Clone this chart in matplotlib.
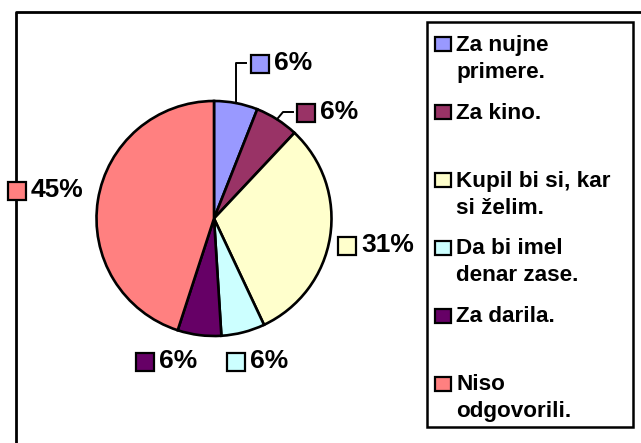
import numpy as np
import matplotlib.pyplot as plt
from matplotlib.patches import Rectangle

W, H = 641, 443

categories = ['Za nujne\nprimere.', 'Za kino.', 'Kupil bi si, kar\nsi želim.',
              'Da bi imel\ndenar zase.', 'Za darila.', 'Niso\nodgovorili.']
shares = [6, 6, 31, 6, 6, 45]
colors = ['#9999FF', '#993366', '#FFFFCC', '#CCFFFF', '#660066', '#FF8080']

# label square left edge / text centre line (pixels from top-left)
label_pos = [(251, 63), (297, 112), (338, 245), (227, 361), (136, 361), (8, 190)]
# elbow points of leader lines (only for labels that have one)
leaders = {0: [(236, 63), (246, 63)], 1: [(283, 112), (293, 112)]}

cx, cy, r = 214, 218.5, 117.5

plt.rcParams['font.family'] = ['Liberation Sans', 'DejaVu Sans']
fig = plt.figure(figsize=(W / 100, H / 100), dpi=100)
ax = fig.add_axes([0, 0, 1, 1])


def up(py):
    return H - py


wedges, _ = ax.pie(shares, colors=colors, startangle=90, counterclock=False,
                   center=(cx, up(cy)), radius=r,
                   wedgeprops=dict(edgecolor='black', linewidth=1.9))
ax.set_aspect('auto')
ax.set_xlim(0, W)
ax.set_ylim(0, H)
ax.axis('off')

# outer chart frame (only left and top edges are inside the image)
ax.plot([15.7, 15.7, W + 5], [-5, up(12.3), up(12.3)], color='black', lw=2,
        clip_on=False, zorder=1)

for i, (w, val) in enumerate(zip(wedges, shares)):
    sx, sy = label_pos[i]
    if i in leaders:
        mid = np.deg2rad((w.theta1 + w.theta2) / 2)
        px, py = cx + r * np.cos(mid), cy - r * np.sin(mid)
        pts = [(px, py)] + leaders[i]
        ax.plot([p[0] for p in pts], [up(p[1]) for p in pts], color='black',
                lw=1.4, zorder=3)
    ax.add_patch(Rectangle((sx, up(sy + 9.5)), 18, 18, facecolor=colors[i],
                           edgecolor='black', lw=1.6, zorder=4))
    ax.text(sx + 23, up(sy), f'{val}%', fontsize=19, fontweight='bold',
            va='center', ha='left', zorder=4)

# legend
ax.add_patch(Rectangle((427.3, up(427)), 633 - 427.3, 427 - 21.7, facecolor='white',
                       edgecolor='black', lw=1.8, zorder=2))
for i, label in enumerate(categories):
    base = 50.7 + i * 67.9
    ax.add_patch(Rectangle((435, up(base + 0.5)), 16, 14, facecolor=colors[i],
                           edgecolor='black', lw=1.6, zorder=4))
    for j, line in enumerate(label.split('\n')):
        ax.text(456.5, up(base + j * 27), line, fontsize=16.2, fontweight='bold',
                va='baseline', ha='left', zorder=4)

fig.savefig('out.png', dpi=100)
